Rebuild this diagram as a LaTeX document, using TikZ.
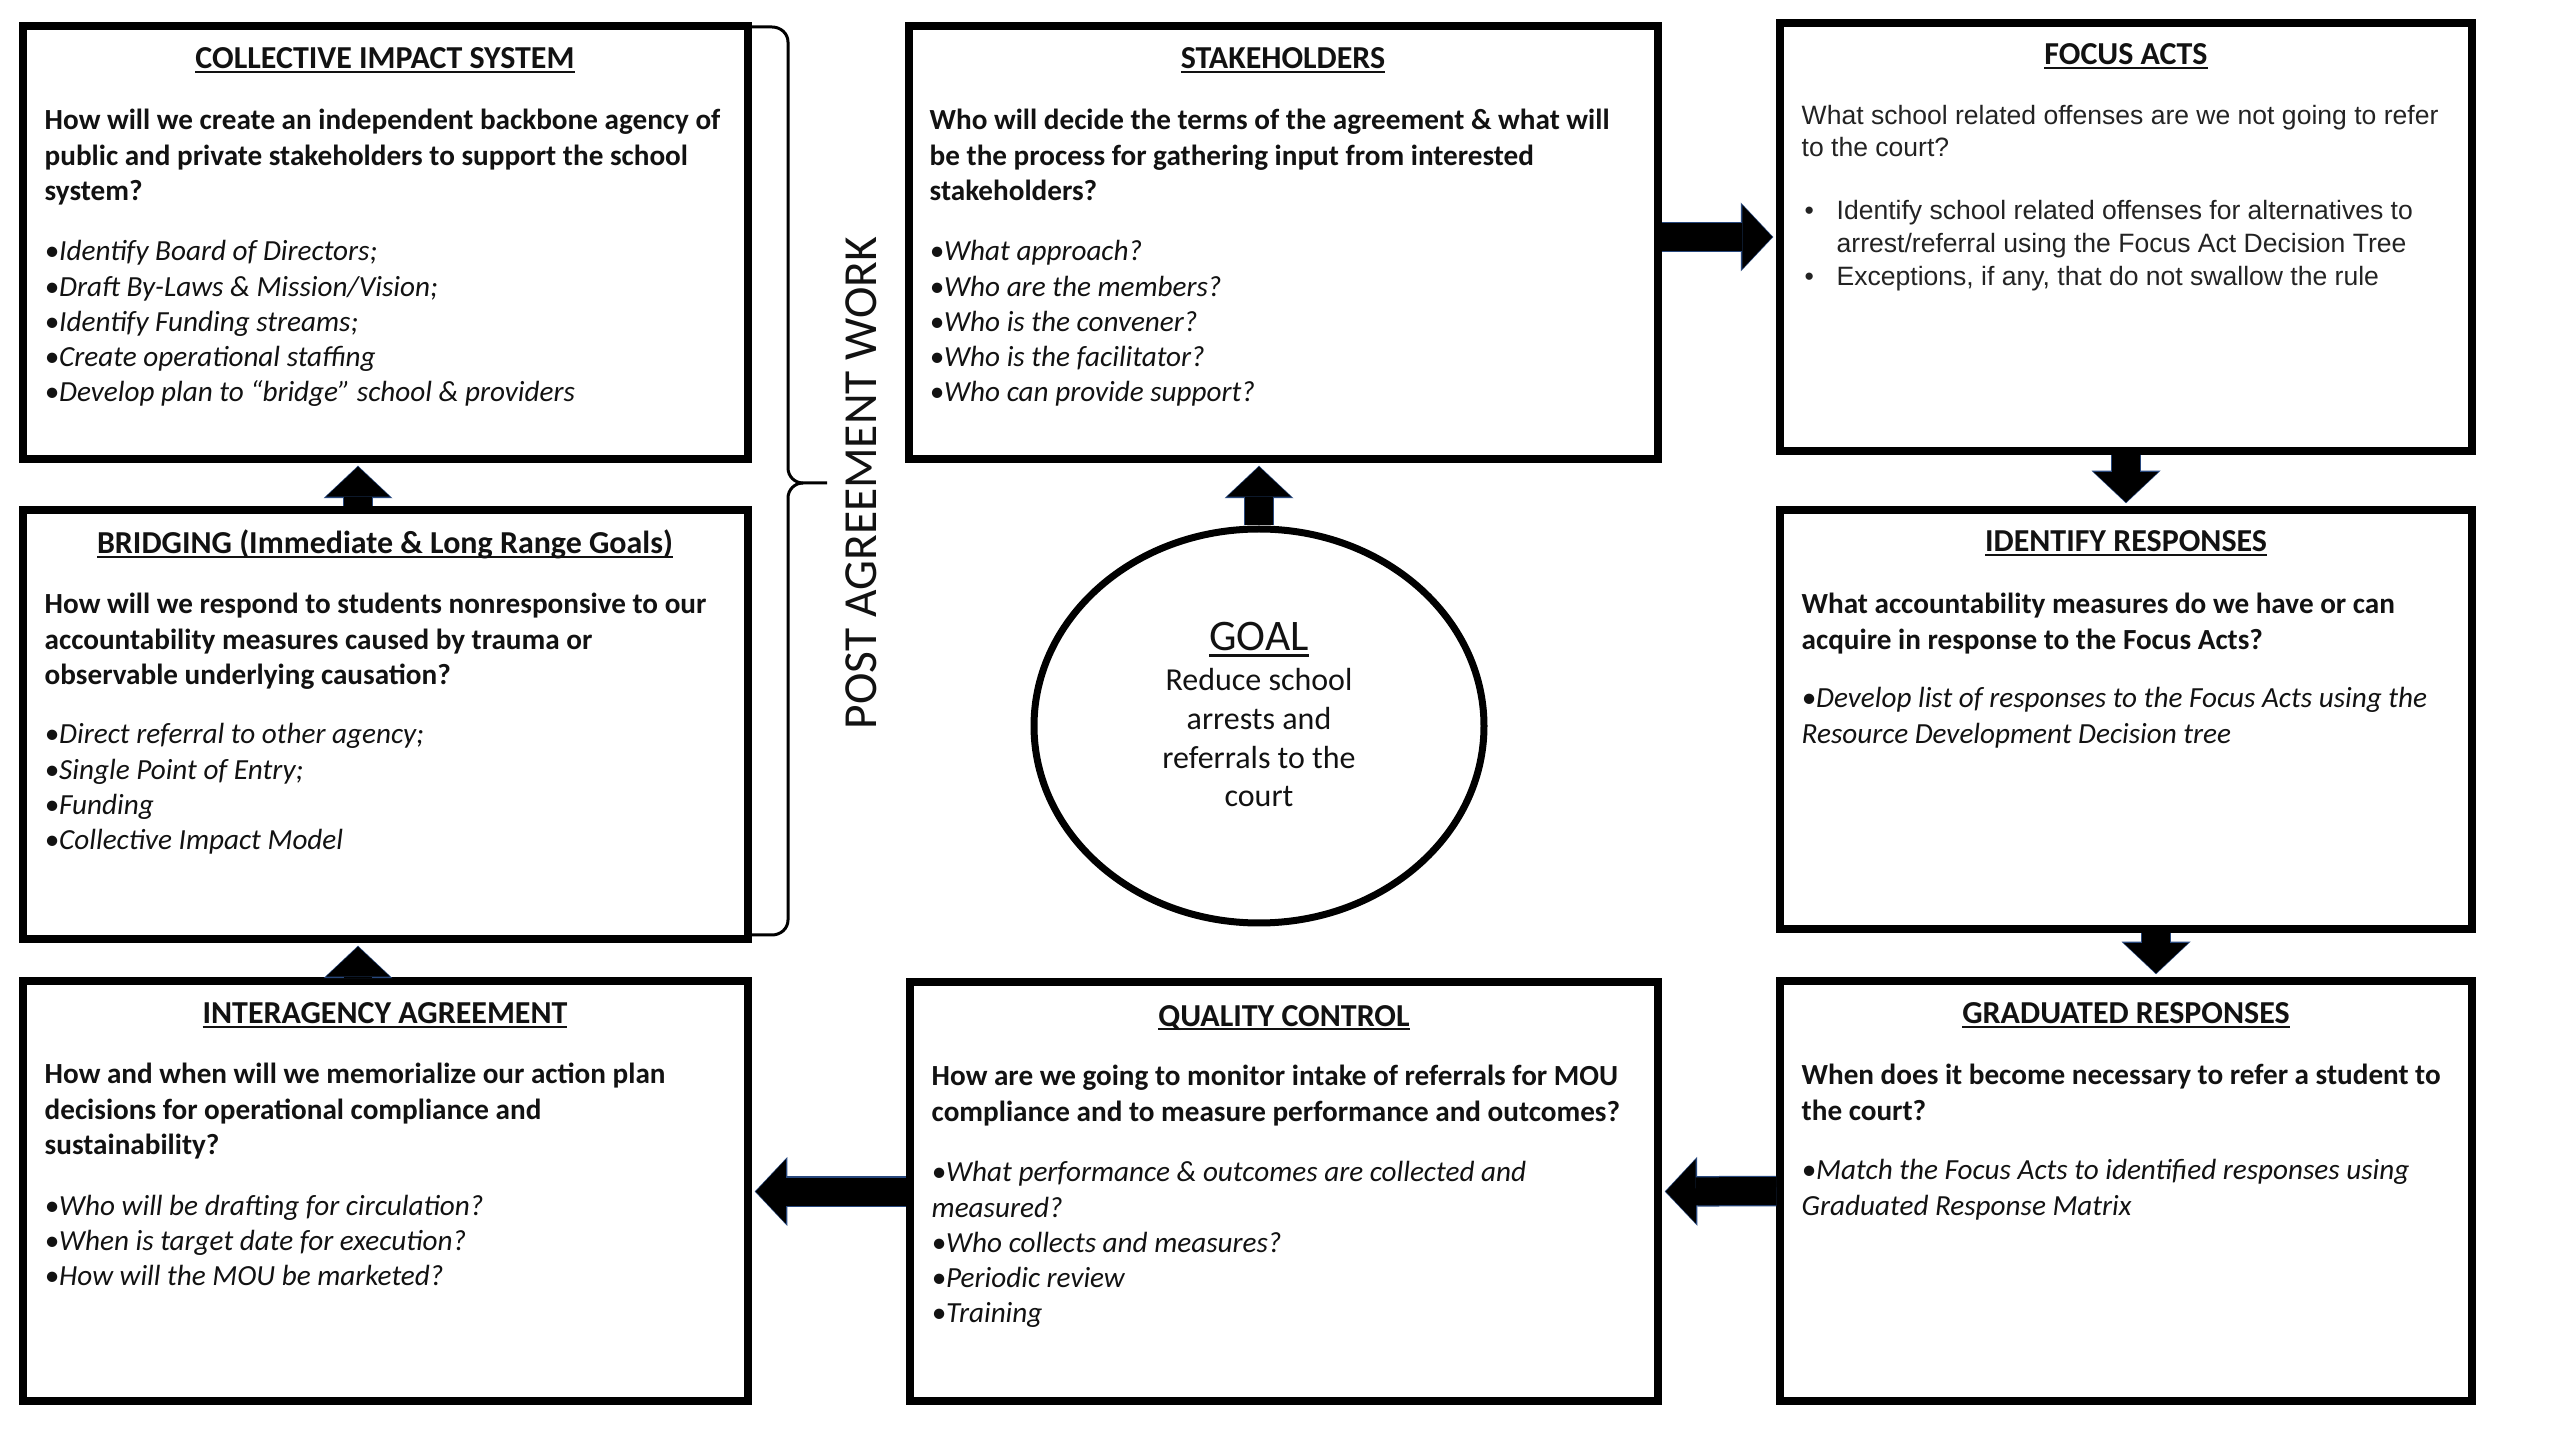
\documentclass[tikz,border=0pt]{standalone}
\usepackage{fontspec}
\setmainfont{Carlito}
\newfontfamily\arialf{Liberation Sans}
\usetikzlibrary{fit,arrows.meta,shapes.geometric}
\definecolor{arrowedge}{RGB}{40,72,125}
\definecolor{ink}{RGB}{18,18,18}
\definecolor{greyink}{RGB}{35,35,35}
\newcommand\blk[1]{\vtop{\halign{##\hfil\cr#1\crcr}}}
\newcommand\blkc[1]{\vtop{\halign{\hfil##\hfil\cr#1\crcr}}}
\newcommand\myul[1]{\setbox0\hbox{#1}\rlap{\rule[-0.14em]{\wd0}{0.07em}}\box0}
\begin{document}
\begin{tikzpicture}[x=0.1mm,y=-0.1mm,
  box/.style={draw=black, line width=0.75mm, inner sep=0pt},
  goalshape/.style={draw=black, ellipse, line width=0.7mm, inner sep=0pt, minimum width=45mm, minimum height=39.4mm},
  ttl/.style={anchor=base, inner sep=0pt, text=ink, font=\fontsize{9.1}{11}\selectfont\bfseries},
  qst/.style={anchor=base west, inner sep=0pt, text=ink, font=\fontsize{8.3}{10}\selectfont\bfseries},
  bul/.style={anchor=base west, inner sep=0pt, text=ink, font=\fontsize{8.3}{10}\selectfont\itshape},
  aq/.style={anchor=base west, inner sep=0pt, text=greyink, font=\arialf\fontsize{7.55}{8.9}\selectfont},
  ab/.style={anchor=base west, inner sep=0pt, text=greyink, font=\arialf\fontsize{7.55}{9.3}\selectfont},
  bracepath/.style={draw=black, line width=0.3mm},
  blockarrow/.style={draw=black, line width=2.8mm, shorten >=0.4mm,
    -{Triangle[length=3mm,width=6.4mm,line width=0pt]},
    preaction={draw=arrowedge, line width=3.05mm, shorten >=0.3mm,
      -{Triangle[length=3.25mm,width=6.9mm,line width=0pt]}}}
]
\path[fill=white] (0,0) rectangle (2560,1440);
\useasboundingbox (0,0) rectangle (2560,1440);

% boxes
\node[box, fit={(23,26)(748,459)}] (cis) {};
\node[box, fit={(23,510)(748,939)}] (bridge) {};
\node[box, fit={(23,981)(748,1401)}] (inter) {};
\node[box, fit={(909,26)(1658,459)}] (stake) {};
\node[box, fit={(910,982)(1658,1401)}] (qc) {};
\node[box, fit={(1780,23)(2472,451)}] (focus) {};
\node[box, fit={(1780,510)(2472,929)}] (ident) {};
\node[box, fit={(1780,981)(2472,1401)}] (grad) {};
\node[goalshape] (goal) at (1259,726) {};

% COLLECTIVE IMPACT SYSTEM
\node[ttl] (cisT) at (385,69) {\myul{COLLECTIVE IMPACT SYSTEM}};
\node[qst] (cisQ) at (44,130) {\blk{How will we create an independent backbone agency of\cr public and private stakeholders to support the school\cr system?}};
\node[bul] (cisB) at (44,261) {\blk{\textbullet Identify Board of Directors;\cr \textbullet Draft By-Laws \& Mission/Vision;\cr \textbullet Identify Funding streams;\cr \textbullet Create operational staffing\cr \textbullet Develop plan to “bridge” school \& providers}};

% BRIDGING
\node[ttl] (brT) at (385,554) {\myul{BRIDGING (Immediate \& Long Range Goals)}};
\node[qst] (brQ) at (44,614) {\blk{How will we respond to students nonresponsive to our\cr accountability measures caused by trauma or\cr observable underlying causation?}};
\node[bul] (brB) at (44,744) {\blk{\textbullet Direct referral to other agency;\cr \textbullet Single Point of Entry;\cr \textbullet Funding\cr \textbullet Collective Impact Model}};

% INTERAGENCY AGREEMENT
\node[ttl] (inT) at (385,1024) {\myul{INTERAGENCY AGREEMENT}};
\node[qst] (inQ) at (44,1084) {\blk{How and when will we memorialize our action plan\cr decisions for operational compliance and\cr sustainability?}};
\node[bul] (inB) at (44,1215) {\blk{\textbullet Who will be drafting for circulation?\cr \textbullet When is target date for execution?\cr \textbullet How will the MOU be marketed?}};

% STAKEHOLDERS
\node[ttl] (stT) at (1283,69) {\myul{STAKEHOLDERS}};
\node[qst] (stQ) at (929,130) {\blk{Who will decide the terms of the agreement \& what will\cr be the process for gathering input from interested\cr stakeholders?}};
\node[bul] (stB) at (929,261) {\blk{\textbullet What approach?\cr \textbullet Who are the members?\cr \textbullet Who is the convener?\cr \textbullet Who is the facilitator?\cr \textbullet Who can provide support?}};

% QUALITY CONTROL
\node[ttl] (qcT) at (1284,1026) {\myul{QUALITY CONTROL}};
\node[qst] (qcQ) at (931,1086) {\blk{How are we going to monitor intake of referrals for MOU\cr compliance and to measure performance and outcomes?}};
\node[bul] (qcB) at (931,1182) {\blk{\textbullet What performance \& outcomes are collected and\cr measured?\cr \textbullet Who collects and measures?\cr \textbullet Periodic review\cr \textbullet Training}};

% FOCUS ACTS
\node[ttl] (foT) at (2126,65) {\myul{FOCUS ACTS}};
\node[aq] (foQ) at (1801,125) {\blk{What school related offenses are we not going to refer\cr to the court?}};
\node[ab] (foB) at (1801,220) {\blk{\hbox to 3.5mm{\kern0.3mm•\hss}Identify school related offenses for alternatives to\cr \hbox to 3.5mm{\hss}arrest/referral using the Focus Act Decision Tree\cr \hbox to 3.5mm{\kern0.3mm•\hss}Exceptions, if any, that do not swallow the rule}};

% IDENTIFY RESPONSES
\node[ttl] (idT) at (2126,552) {\myul{IDENTIFY RESPONSES}};
\node[qst] (idQ) at (1801,614) {\blk{What accountability measures do we have or can\cr acquire in response to the Focus Acts?}};
\node[bul] (idB) at (1801,708) {\blk{\textbullet Develop list of responses to the Focus Acts using the\cr Resource Development Decision tree}};

% GRADUATED RESPONSES
\node[ttl] (grT) at (2126,1024) {\myul{GRADUATED RESPONSES}};
\node[qst] (grQ) at (1801,1085) {\blk{When does it become necessary to refer a student to\cr the court?}};
\node[bul] (grB) at (1801,1180) {\blk{\textbullet Match the Focus Acts to identified responses using\cr Graduated Response Matrix}};

% GOAL
\node[anchor=base, inner sep=0pt, text=ink, font=\fontsize{12.4}{14}\selectfont] (goalT) at (1259,651) {\myul{GOAL}};
\node[anchor=base, inner sep=0pt, text=ink, font=\fontsize{9.1}{11}\selectfont] (goalB) at (1259,691) {\blkc{Reduce school\cr arrests and\cr referrals to the\cr court}};

% brace and side label
\coordinate (brTop) at (750,27);
\coordinate (brTip) at (827,483);
\coordinate (brBot) at (750,935);
\draw[bracepath] (brTop) -- (772,27) to[out=0,in=90] (788,42) -- (788,468) to[out=-90,in=180] (803,483) -- (brTip);
\draw[bracepath] (803,483) to[out=180,in=90] (788,498) -- (788,920) to[out=-90,in=0] (772,935) -- (brBot);
\node[rotate=90, inner sep=0pt, text=ink, font=\fontsize{13.5}{16}\selectfont] (paw) at (861,483) {POST AGREEMENT WORK};

% arrows
\draw[blockarrow] ([xshift=-2.75mm]bridge.north) -- ([xshift=-2.75mm]cis.south);
\draw[blockarrow] ([xshift=-2.75mm]inter.north) -- ([xshift=-2.75mm]bridge.south);
\draw[blockarrow] (goal.north) -- (goal.north |- stake.south);
\draw[blockarrow] (stake.east |- focus.west) -- (focus.west);
\draw[blockarrow] (focus.south) -- (ident.north);
\draw[blockarrow] ([xshift=3mm]ident.south) -- ([xshift=3mm]grad.north);
\draw[blockarrow] (grad.west) -- (qc.east);
\draw[blockarrow] (qc.west) -- (qc.west -| inter.east);
\end{tikzpicture}
\end{document}
